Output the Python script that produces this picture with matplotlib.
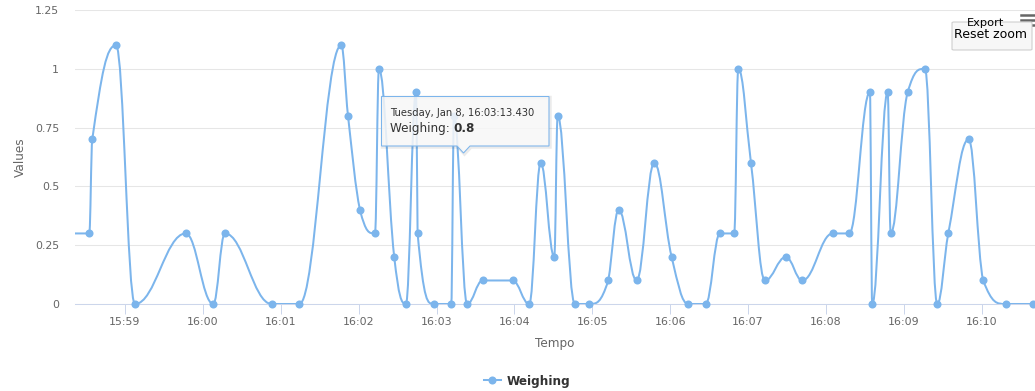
import numpy as np
import pandas as pd
import matplotlib
matplotlib.use("Agg")
import matplotlib.pyplot as plt
import matplotlib.dates as mdates
from matplotlib.path import Path
from matplotlib.patches import PathPatch, FancyBboxPatch, Polygon
from matplotlib.lines import Line2D
from matplotlib.text import Annotation
from matplotlib.transforms import Affine2D

# dados
dia = "2019-01-08 "
tempo = ["15:58:00", "15:58:32.5", "15:58:34.8", "15:58:53.1", "15:59:07.7",
         "15:59:46.8", "16:00:08.0", "16:00:17.0", "16:00:53.0", "16:01:14.3",
         "16:01:46.6", "16:01:51.8", "16:02:01.0", "16:02:12.6", "16:02:15.6",
         "16:02:27.4", "16:02:36.4", "16:02:44.1", "16:02:45.4", "16:02:58.0",
         "16:03:11.3", "16:03:13.430", "16:03:23.6", "16:03:35.5", "16:03:58.6",
         "16:04:11.4", "16:04:20.2", "16:04:30.7", "16:04:33.3", "16:04:46.6",
         "16:04:57.6", "16:05:12.3", "16:05:20.3", "16:05:34.1", "16:05:47.7",
         "16:06:01.1", "16:06:13.9", "16:06:27.3", "16:06:38.3", "16:06:49.3",
         "16:06:52.4", "16:07:02.2", "16:07:13.0", "16:07:29.1", "16:07:41.7",
         "16:08:05.1", "16:08:17.9", "16:08:33.8", "16:08:35.6", "16:08:47.5",
         "16:08:49.8", "16:09:02.9", "16:09:16.2", "16:09:25.7", "16:09:34.2",
         "16:09:49.9", "16:10:01.1", "16:10:18.4", "16:10:39.6"]
weighing = [0.3, 0.3, 0.7, 1.1, 0, 0.3, 0, 0.3, 0, 0,
            1.1, 0.8, 0.4, 0.3, 1.0, 0.2, 0, 0.9, 0.3, 0,
            0, 0.8, 0, 0.1, 0.1, 0, 0.6, 0.2, 0.8, 0,
            0, 0.1, 0.4, 0.1, 0.6, 0.2, 0, 0, 0.3, 0.3,
            1.0, 0.6, 0.1, 0.2, 0.1, 0.3, 0.3, 0.9, 0, 0.9,
            0.3, 0.9, 1.0, 0, 0.3, 0.7, 0.1, 0, 0]
y_ticks = [0, 0.25, 0.5, 0.75, 1, 1.25]
y_labels = ["0", "0.25", "0.5", "0.75", "1", "1.25"]
x_ini = "15:58:21.5"
x_fim = "16:10:41"
ponto_tooltip = 21

cor = "#7cb5ec"
W, H = 1035, 391


# spline do Highcharts (bezier cubica, smoothing 1.5)
def spline(xs, ys, smoothing=1.5):
    denom = smoothing + 1
    n = len(xs)
    verts = [(xs[0], ys[0])]
    codes = [Path.MOVETO]
    direita = [None] * n
    for i in range(1, n):
        px, py = xs[i], ys[i]
        lcx, lcy = px, py
        if i < n - 1:
            lx, ly = xs[i - 1], ys[i - 1]
            nx, ny = xs[i + 1], ys[i + 1]
            lcx = (smoothing * px + lx) / denom
            lcy = (smoothing * py + ly) / denom
            rcx = (smoothing * px + nx) / denom
            rcy = (smoothing * py + ny) / denom
            corr = 0
            if rcx != lcx:
                corr = (rcy - lcy) * (rcx - px) / (rcx - lcx) + py - rcy
            lcy += corr
            rcy += corr
            if lcy > ly and lcy > py:
                lcy = max(ly, py); rcy = 2 * py - lcy
            elif lcy < ly and lcy < py:
                lcy = min(ly, py); rcy = 2 * py - lcy
            if rcy > ny and rcy > py:
                rcy = max(ny, py); lcy = 2 * py - rcy
            elif rcy < ny and rcy < py:
                rcy = min(ny, py); lcy = 2 * py - rcy
            direita[i] = (rcx, rcy)
        ant = direita[i - 1] if direita[i - 1] is not None else (xs[i - 1], ys[i - 1])
        verts += [ant, (lcx, lcy), (px, py)]
        codes += [Path.CURVE4] * 3
    return Path(verts, codes)


datas = pd.to_datetime([dia + t for t in tempo], format='mixed')
x = mdates.date2num(datas.to_pydatetime())
y = np.array(weighing, dtype=float)
xmin = mdates.date2num(pd.Timestamp(dia + x_ini).to_pydatetime())
xmax = mdates.date2num(pd.Timestamp(dia + x_fim).to_pydatetime())

plt.rcParams['font.family'] = ['DejaVu Sans']
fig = plt.figure(figsize=(W / 100, H / 100), dpi=100)
ax = fig.add_axes([75 / W, (H - 304) / H, 960 / W, 294 / H])

# px (topo-esquerda) -> figura
pix = Affine2D().scale(1 / W, -1 / H).translate(0, 1) + fig.transFigure

ax.set_xlim(xmin, xmax)
ax.set_ylim(0, 1.25)
ax.set_yticks(y_ticks)
ax.set_yticklabels(y_labels)
ax.grid(axis='y', color='#e6e6e6', linewidth=0.75)
ax.set_axisbelow(True)
for s in ['top', 'right', 'left']:
    ax.spines[s].set_visible(False)
ax.spines['bottom'].set_color('#ccd6eb')
ax.spines['bottom'].set_linewidth(0.75)
ax.spines['bottom'].set_zorder(1)

ax.xaxis.set_major_locator(mdates.MinuteLocator())
ax.xaxis.set_major_formatter(mdates.DateFormatter('%H:%M'))
ax.tick_params(axis='x', direction='out', length=7.2, width=0.72, color='#ccd6eb',
               labelcolor='#666666', labelsize=7.9, pad=2)
ax.tick_params(axis='y', length=0, labelcolor='#666666', labelsize=7.9, pad=11.5)

# linha
ax.add_patch(PathPatch(spline(x, y), facecolor='none', edgecolor=cor,
                       linewidth=1.45, zorder=3, capstyle='round', joinstyle='round'))
vis = (x >= xmin) & (x <= xmax)
ax.plot(x[vis], y[vis], 'o', color=cor, markersize=5.8, markeredgewidth=0,
        clip_on=False, zorder=4)

fig.text(555 / W, 1 - 343 / H, "Tempo", ha='center', va='center',
         color='#666666', fontsize=8.64)
fig.text(20 / W, 1 - 157 / H, "Values", ha='center', va='center', rotation=90,
         color='#666666', fontsize=8.64)

# legenda
h = Line2D([], [], color=cor, linewidth=1.45, marker='o', markersize=5.8,
           markeredgewidth=0)
fig.legend([h], ["Weighing"], loc='center', bbox_to_anchor=(527 / W, 1 - 381 / H),
           frameon=False, handlelength=1.4, handletextpad=0.45,
           prop={'weight': 'bold', 'size': 8.64}, labelcolor='#333333')

# tooltip
caixa = [(381.5, 96.5), (549, 96.5), (549, 146), (470, 146), (463.5, 153),
         (457, 146), (381.5, 146)]
sombra = [(a + 1, b + 1) for a, b in caixa]
fig.add_artist(Polygon(sombra, closed=True, transform=pix, facecolor='none',
                       edgecolor=(0, 0, 0, 0.08), linewidth=2.5, zorder=9))
fig.add_artist(Polygon(caixa, closed=True, transform=pix,
                       facecolor=(247 / 255, 247 / 255, 247 / 255, 0.85),
                       edgecolor=cor, linewidth=0.75, zorder=10))
ts = datas[ponto_tooltip]
cab = f"{ts:%A}, {ts:%b} {ts.day}, {ts:%H:%M:%S}.{ts.microsecond // 1000:03d}"
fig.text(390 / W, 1 - 113.5 / H, cab, ha='left', va='center', fontsize=7.2,
         color='#333333', zorder=11)
t2 = fig.text(390 / W, 1 - 128.5 / H, "Weighing: ", ha='left', va='center',
              fontsize=8.64, color='#333333', zorder=11)
fig.add_artist(Annotation(f"{weighing[ponto_tooltip]:g}", xy=(1, 0.5), xycoords=t2,
                          ha='left', va='center', fontsize=8.64, fontweight='bold',
                          color='#333333', zorder=11))

# botoes
for yy in [15, 20, 25]:
    fig.add_artist(Line2D([1021 / W, 1037 / W], [1 - yy / H, 1 - yy / H],
                          color='#666666', linewidth=1.8, zorder=8))
fig.add_artist(FancyBboxPatch((952 / W, 1 - 50 / H), 80 / W, 28 / H,
                              boxstyle='round,pad=0,rounding_size=0.002',
                              transform=fig.transFigure, facecolor='#f7f7f7',
                              edgecolor='#cccccc', linewidth=0.75, zorder=9))
fig.text(991 / W, 1 - 35 / H, "Reset zoom", ha='center', va='center',
         fontsize=9, color='#000000', zorder=10)
fig.text(986 / W, 1 - 22.5 / H, "Export", ha='center', va='center',
         fontsize=8.2, color='#000000', zorder=10)

fig.savefig("out.png", dpi=100)
